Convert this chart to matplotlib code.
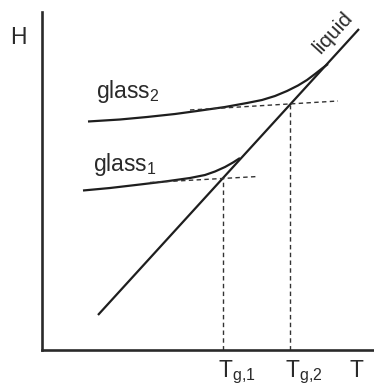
import matplotlib
matplotlib.use("Agg")
import matplotlib.pyplot as plt
import numpy as np

plt.rcParams['font.family'] = ['Liberation Sans', 'DejaVu Sans']
plt.rcParams['mathtext.default'] = 'regular'

# Schematic enthalpy (H) vs temperature (T), arbitrary units
liquid_T = [56, 317]
liquid_H = [35, 321]

glass1_T = [41, 68, 98, 123, 148, 163, 173, 183, 191, 198]
glass1_H = [159.5, 162, 165.5, 168.5, 172, 175, 178.5, 183, 187.5, 192]
glass1_ext_T = [108, 216]
glass1_ext_H = [167.5, 173.5]

glass2_T = [46, 78, 105, 133, 155, 183, 205, 220, 233, 245, 256, 265, 273, 280, 286]
glass2_H = [228.5, 230.5, 233, 236, 239, 243, 247, 250, 254, 259, 264.5, 270, 276, 281.5, 286]
glass2_ext_T = [148, 296]
glass2_ext_H = [240, 249]

Tg = [181, 248]
Hg = [172, 245.5]
tick_labels = ['$T_{g{,}1}$', '$T_{g{,}2}$']
T_axis_label_pos = 308

W, Hpx = 374, 387
fig = plt.figure(figsize=(W / 100, Hpx / 100), dpi=100)
ax = fig.add_axes([42 / W, (Hpx - 350) / Hpx, (W - 42) / W, 338 / Hpx])
ax.set_xlim(0, 332)
ax.set_ylim(0, 338)
for s in ['top', 'right']:
    ax.spines[s].set_visible(False)
for s in ['left', 'bottom']:
    ax.spines[s].set_linewidth(1.9)
    ax.spines[s].set_color('#2a2a2a')
ax.set_xticks([])
ax.set_yticks([])

lc = '#1e1e1e'
ax.plot(liquid_T, liquid_H, color=lc, lw=1.6, solid_capstyle='butt')
ax.plot(glass1_T, glass1_H, color=lc, lw=1.6, solid_capstyle='butt')
ax.plot(glass2_T, glass2_H, color=lc, lw=1.6, solid_capstyle='butt')
dash = dict(color='#333333', lw=1.0, linestyle=(0, (3.2, 2.4)))
ax.plot(glass1_ext_T, glass1_ext_H, **dash)
ax.plot(glass2_ext_T, glass2_ext_H, **dash)
for t, h in zip(Tg, Hg):
    ax.plot([t, t], [0, h], **dash)

tc = '#2a2a2a'
fs = 16.5
for t, lab in zip(Tg, tick_labels):
    ax.text(t - 5, -27, lab, ha='left', va='baseline', fontsize=fs, color=tc, clip_on=False)
ax.text(T_axis_label_pos, -27, 'T', ha='left', va='baseline', fontsize=fs, color=tc, clip_on=False)
fig.text(18 / W, 1 - 37 / Hpx, 'H', ha='center', va='center', fontsize=fs, color=tc)

ax.text(54, 252, 'glass$_2$', ha='left', va='baseline', fontsize=fs, color=tc)
ax.text(51, 179, 'glass$_1$', ha='left', va='baseline', fontsize=fs, color=tc)
ang = np.degrees(np.arctan2(liquid_H[1] - liquid_H[0], liquid_T[1] - liquid_T[0]))
ax.text(291, 317, 'liquid', ha='center', va='center', rotation=ang,
        rotation_mode='anchor', fontsize=fs - 1.5, color=tc, clip_on=False)

fig.savefig('out.png', dpi=100)
